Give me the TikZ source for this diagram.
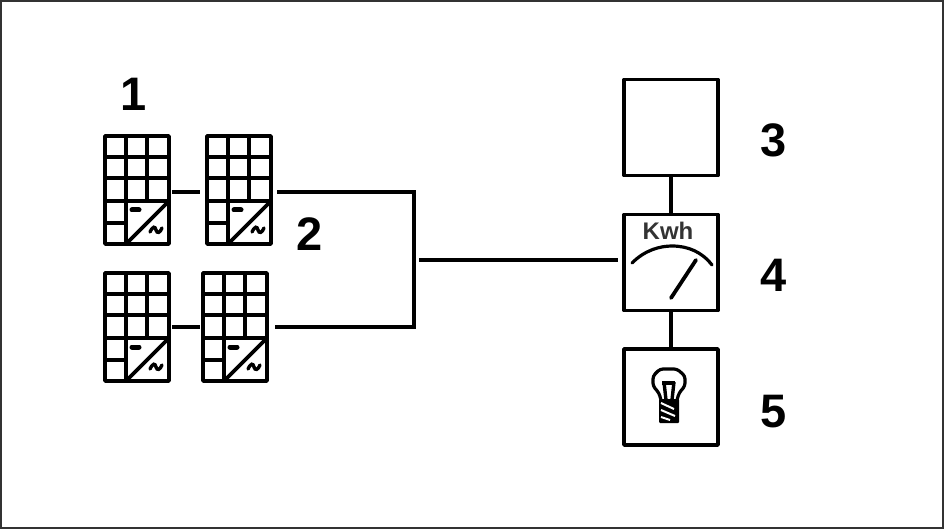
\documentclass[tikz,border=0pt]{standalone}
\usepackage{fontspec}
\setmainfont{Liberation Sans}
\definecolor{FrameClr}{rgb}{0.2,0.2,0.2}
\definecolor{KwhClr}{rgb}{0.2,0.2,0.2}
\tikzset{
  gridline/.style={line width=3.7pt,color=black,line cap=round,line join=round},
  panelbox/.style={draw,gridline,rectangle,inner sep=0pt,outer sep=0pt,minimum width=64pt,minimum height=108pt,anchor=north west},
  unitbox/.style={draw,line width=3.8pt,line join=round,rectangle,inner sep=0pt,outer sep=0pt,minimum width=94pt,minimum height=96pt},
  wire/.style={line width=3.5pt,color=black},
  digit/.style={inner sep=0pt,font=\bfseries\fontsize{47}{47}\selectfont},
  solarpanel/.pic={
    \node[panelbox] (-box) at (0,0) {};
    \foreach \y in {21,42,65} \draw[gridline] (0,\y) -- (64,\y);
    \draw[gridline] (21,0) -- (21,108);
    \draw[gridline] (42,0) -- (42,65);
    \draw[gridline] (0,87) -- (21,87);
    \draw[gridline] (21,108) -- (64,65);
    \draw[line width=5pt,line cap=round] (27,74) -- (34,74);
    \draw[line width=3.4pt,line cap=round] (45,96) .. controls (48,90) and (50,90) .. (51,94) .. controls (52,98) and (55,97) .. (57,92);
  }
}
\begin{document}
\begin{tikzpicture}[x=1pt,y=-1pt]
\useasboundingbox (0,0) rectangle (944,529);
\draw[line width=1.4pt,color=FrameClr] (1,1) rectangle (943,528);

% panels
\pic (pa) at (105,136) {solarpanel};
\pic (pb) at (207,136) {solarpanel};
\pic (pc) at (105,273) {solarpanel};
\pic (pd) at (203,273) {solarpanel};

% units
\node[unitbox] (grid) at (671,127.5) {};
\node[unitbox] (meter) at (671,262.5) {};
\node[unitbox] (lamp) at (671,397) {};

\coordinate (jtop) at (414,192);
\coordinate (jbot) at (414,327);
\coordinate (jmid) at (419,260);

\draw[wire,shorten <=3pt,shorten >=7pt] (pa-box.east |- 0,192) -- (pb-box.west |- 0,192);
\draw[wire,shorten <=3pt,shorten >=3pt] (pc-box.east |- 0,327) -- (pd-box.west |- 0,327);
\draw[wire,shorten <=6pt,shorten >=8pt] (pb-box.east |- 0,192) -- (jtop) -- (jbot) -- (pd-box.east |- 0,327);
\draw[wire,shorten >=6pt] (jmid) -- (meter.west |- jmid);
\draw[wire] (grid.south) -- (meter.north);
\draw[wire] (meter.south) -- (lamp.north);

% meter face
\node[inner sep=0pt,text=KwhClr,font=\bfseries\fontsize{24}{24}\selectfont] (kwh) at (668,231) {Kwh};
\draw[line width=3.2pt,line cap=round] (632,263) .. controls (645,250) and (660,246) .. (672,246) .. controls (688,246) and (702,252) .. (712,265);
\draw[line width=3.8pt,line cap=round] (671,298) -- (696,260);

% bulb
\draw[line width=3.2pt,line join=round,rounded corners=3pt] (661,400) -- (659,393) -- (653,386) -- (653,376) -- (660,369) -- (677,369) -- (685,376) -- (685,386) -- (679,393) -- (677,400);
\draw[line width=3.6pt] (662,383) -- (675,383);
\draw[line width=3.4pt] (664,382) -- (666,400);
\draw[line width=3.4pt] (674,382) -- (672,400);
\fill[black,rounded corners=1pt] (659,399) rectangle (679,423);
\draw[white,line width=2pt] (661,403) -- (674,409);
\draw[white,line width=2pt] (661,410) -- (675,416);
\draw[white,line width=2pt] (661,417) -- (670,420);

% labels
\node[digit] (one) at (134,94) {1};
\node[digit] (two) at (310,234) {2};
\node[digit] (three) at (774,140) {3};
\node[digit] (four) at (774,275) {4};
\node[digit] (five) at (774,412) {5};

\end{tikzpicture}
\end{document}
